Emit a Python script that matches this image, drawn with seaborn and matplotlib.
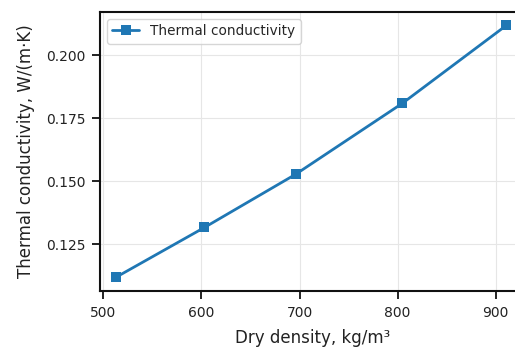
import numpy as np
import pandas as pd
import matplotlib
matplotlib.use("Agg")
import matplotlib.pyplot as plt
import seaborn as sns

density = [513, 603, 696, 805, 911]
conductivity = [0.112, 0.1317, 0.1528, 0.181, 0.2119]
series_name = "Thermal conductivity"

df = pd.DataFrame({"density": density, "k": conductivity})

sns.set_style("ticks")
plt.rcParams["font.family"] = ["DejaVu Sans"]

fig = plt.figure(figsize=(5.15, 3.47), dpi=100)
ax = fig.add_axes([100 / 515, 56 / 347, 426 / 515, 279 / 347])
sns.lineplot(data=df, x="density", y="k", marker="s", markersize=7.5,
             color="#1f77b4", linewidth=2.0, markeredgewidth=0,
             label=series_name, ax=ax)
ax.grid(True, color="#e6e6e6", linewidth=0.8)
ax.set_axisbelow(True)
ax.set_xticks([500, 600, 700, 800, 900])
ax.set_yticks([0.125, 0.150, 0.175, 0.200])
ax.set_ylim(0.1065, 0.2172)
ax.set_xlim(496.5, 931)
ax.tick_params(labelsize=10, width=1.4, length=6, pad=4.5, colors="#222222")
for s in ax.spines.values():
    s.set_linewidth(1.5)
    s.set_color("#111111")
ax.set_xlabel("Dry density, kg/m³", fontsize=12, color="#222222", labelpad=6.5)
ax.set_ylabel("Thermal conductivity, W/(m·K)", fontsize=12, color="#222222", labelpad=8)
ax.legend(loc="upper left", fontsize=9.8, handlelength=2)
fig.savefig("out.png", dpi=100)
